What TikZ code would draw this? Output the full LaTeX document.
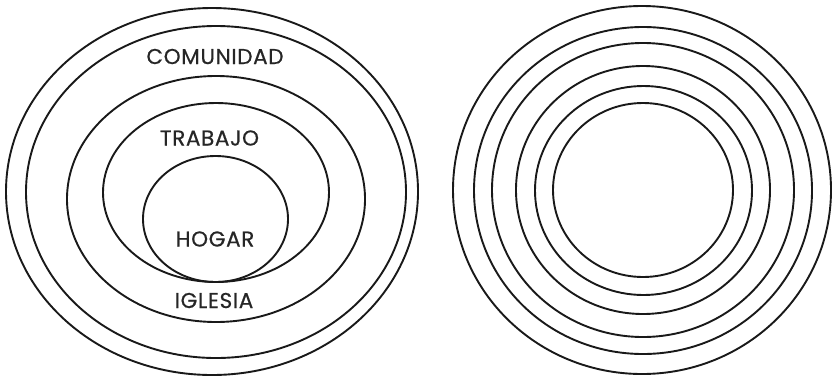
\documentclass[tikz,border=0pt]{standalone}
\usepackage{fontspec}
\setmainfont{Poppins}
\newfontfamily\lblfont{Poppins}[FakeBold=0.6,LetterSpace=3]
\begin{document}
\begin{tikzpicture}[x=1pt,y=-1pt,
  ring/.style={draw=black!90,line width=1.9pt},
  lbl/.style={font=\lblfont\fontsize{21.5}{21.5}\selectfont,text=black!85,inner sep=0pt,anchor=center}]
\useasboundingbox (0,0) rectangle (834,378);
% left nested ellipses
\draw[ring] (212,191.5) ellipse [x radius=206,y radius=183.5];
\draw[ring] (216,192) ellipse [x radius=190,y radius=166];
\draw[ring] (216,199) ellipse [x radius=149,y radius=123];
\draw[ring] (216,192.5) ellipse [x radius=113,y radius=89.5];
\draw[ring] (215.5,219) ellipse [x radius=72.5,y radius=63];
\node[lbl] (comunidad) at (215,56.5) {COMUNIDAD};
\node[lbl] (trabajo) at (209.5,138) {TRABAJO};
\node[lbl] (hogar) at (215,239) {HOGAR};
\node[lbl] (iglesia) at (214,300.5) {IGLESIA};
% right concentric rings
\draw[ring] (642,190) ellipse [x radius=189,y radius=184];
\draw[ring] (643,190.5) ellipse [x radius=169,y radius=163.5];
\draw[ring] (643,190) ellipse [x radius=151,y radius=147];
\draw[ring] (643,190) ellipse [x radius=127,y radius=124];
\draw[ring] (643.5,190.5) ellipse [x radius=108.5,y radius=104.5];
\draw[ring] (643,190) ellipse [x radius=90,y radius=87];
\end{tikzpicture}
\end{document}
